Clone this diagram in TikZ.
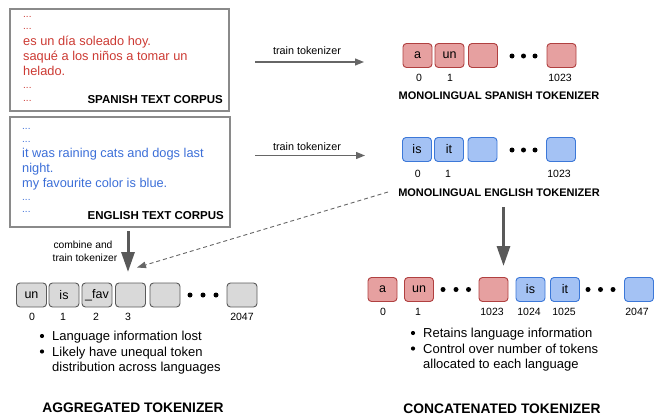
\documentclass[tikz,border=0pt]{standalone}
\usepackage{fontspec}
\setmainfont{Liberation Sans}
\usetikzlibrary{arrows.meta}
\definecolor{sptxt}{HTML}{CC3A33}
\definecolor{entxt}{HTML}{3C6FD8}
\definecolor{redfill}{HTML}{E6A0A0}
\definecolor{redline}{HTML}{B04040}
\definecolor{bluefill}{HTML}{A4C2F4}
\definecolor{blueline}{HTML}{3C78D8}
\definecolor{grayfill}{HTML}{D9D9D9}
\definecolor{grayline}{HTML}{5A5A5A}
\definecolor{boxline}{HTML}{8A8A8A}
\definecolor{arrowgray}{HTML}{666666}
\definecolor{thickgray}{HTML}{595959}
\tikzset{
  corpus/.style={draw=boxline, line width=1.2pt, inner sep=0pt},
  sptext/.style={text=sptxt, font=\fontsize{12.8}{15}\selectfont, anchor=base west, inner sep=0pt},
  entext/.style={text=entxt, font=\fontsize{12.8}{15}\selectfont, anchor=base west, inner sep=0pt},
  spdots/.style={text=sptxt, font=\fontsize{10}{12}\selectfont, anchor=base west, inner sep=0pt},
  endots/.style={text=entxt, font=\fontsize{10}{12}\selectfont, anchor=base west, inner sep=0pt},
  corpuslabel/.style={font=\bfseries\fontsize{11.5}{13}\selectfont, anchor=base east, inner sep=0pt},
  toklabel/.style={font=\bfseries\fontsize{11}{13}\selectfont, anchor=base, inner sep=0pt},
  title/.style={font=\bfseries\fontsize{13.8}{16}\selectfont, anchor=base, inner sep=0pt},
  small/.style={font=\fontsize{10.8}{12}\selectfont, anchor=base, inner sep=0pt},
  tiny/.style={font=\fontsize{10.3}{12}\selectfont, anchor=base, inner sep=0pt},
  idx/.style={font=\fontsize{10.5}{12}\selectfont, anchor=base, inner sep=0pt},
  bultext/.style={font=\fontsize{13}{15}\selectfont, anchor=base west, inner sep=0pt},
  bul/.style={circle, fill=black, inner sep=0pt, minimum size=4.2pt},
  tdot/.style={circle, fill=black, inner sep=0pt, minimum size=5pt},
  tok/.style={draw, rounded corners=3.5pt, minimum width=29pt, minimum height=24pt, inner sep=0pt, line width=0.9pt, font=\fontsize{12.5}{14}\selectfont},
  redtok/.style={tok, fill=redfill, draw=redline},
  bluetok/.style={tok, fill=bluefill, draw=blueline},
  graytok/.style={tok, fill=grayfill, draw=grayline, minimum width=30pt},
  thinarrow/.style={draw=arrowgray, line width=1.2pt, -{Triangle[length=9pt,width=7pt]}},
  thickarrow/.style={draw=thickgray, line width=3pt, -{Triangle[length=20pt,width=13pt]}},
  dasharrow/.style={draw=arrowgray, line width=0.9pt, dash pattern=on 4pt off 3pt, -{Triangle[length=9pt,width=6.5pt]}}
}
\begin{document}
\begin{tikzpicture}[x=1pt,y=-1pt]
\useasboundingbox (0,0) rectangle (654,415);
% Spanish corpus
\node[corpus, minimum width=219pt, minimum height=102pt] (spbox) at (119.5,60) {};
\node[spdots] (sp1) at (23,17) {...};
\node[spdots] (sp2) at (23,30) {...};
\node[sptext] (sp3) at (23,45.5) {es un día soleado hoy.};
\node[sptext] (sp4) at (23,60.5) {saqué a los niños a tomar un};
\node[sptext] (sp5) at (23,75.5) {helado.};
\node[spdots] (sp6) at (23,88.5) {...};
\node[spdots] (sp7) at (23,101) {...};
\node[corpuslabel] (splab) at (223,103) {SPANISH TEXT CORPUS};
% English corpus
\node[corpus, minimum width=220pt, minimum height=110pt] (enbox) at (120,172) {};
\node[endots] (en1) at (22,129) {...};
\node[endots] (en2) at (22,142) {...};
\node[entext] (en3) at (22,157.5) {it was raining cats and dogs last};
\node[entext] (en4) at (22,172.5) {night.};
\node[entext] (en5) at (22,187.5) {my favourite color is blue.};
\node[endots] (en6) at (22,200) {...};
\node[endots] (en7) at (22,212.5) {...};
\node[corpuslabel] (enlab) at (224,219.3) {ENGLISH TEXT CORPUS};
% train arrows
\node[small] (tr1) at (307,54.5) {train tokenizer};
\coordinate (tr1s) at (255,62);
\coordinate (tr1e) at (364,62);
\draw[thinarrow] (tr1s) -- (tr1e);
\node[small] (tr2) at (307,150.5) {train tokenizer};
\coordinate (tr2s) at (255,155.5);
\coordinate (tr2e) at (365,155.5);
\draw[thinarrow] (tr2s) -- (tr2e);
% Spanish tokenizer
\node[redtok] (s0) at (417.5,55.5) {a};
\node[redtok] (s1) at (449.5,55.5) {un};
\node[redtok] (s2) at (483,55.5) {};
\node[tdot] (sd1) at (512,56) {};
\node[tdot] (sd2) at (523.5,56) {};
\node[tdot] (sd3) at (535,56) {};
\node[redtok] (s3) at (561.5,55.5) {};
\node[idx] (si0) at (419,81.8) {0};
\node[idx] (si1) at (450,81.8) {1};
\node[idx] (si3) at (560,81.8) {1023};
\node[toklabel] (slab) at (499,99) {MONOLINGUAL SPANISH TOKENIZER};
% English tokenizer
\node[bluetok] (e0) at (417,149.5) {is};
\node[bluetok] (e1) at (449,149.5) {it};
\node[bluetok] (e2) at (482.5,149.5) {};
\node[tdot] (ed1) at (512,150) {};
\node[tdot] (ed2) at (523.5,150) {};
\node[tdot] (ed3) at (535,150) {};
\node[bluetok] (e3) at (561,149.5) {};
\node[idx] (ei0) at (417.7,177.8) {0};
\node[idx] (ei1) at (448,177.8) {1};
\node[idx] (ei3) at (559,177.8) {1023};
\node[toklabel] (elab) at (499,196) {MONOLINGUAL ENGLISH TOKENIZER};
% Aggregated tokenizer
\node[graytok] (g0) at (31.5,295) {un};
\node[graytok] (g1) at (64,295) {is};
\node[graytok] (g2) at (97,295) {\_fav};
\node[graytok] (g3) at (130.5,295) {};
\node[graytok] (g4) at (165,295) {};
\node[tdot] (gd1) at (190,295) {};
\node[tdot] (gd2) at (203,295) {};
\node[tdot] (gd3) at (216,295) {};
\node[graytok] (g5) at (242,295) {};
\node[idx] (gi0) at (32,320.8) {0};
\node[idx] (gi1) at (63,320.8) {1};
\node[idx] (gi2) at (96,320.8) {2};
\node[idx] (gi3) at (128,320.8) {3};
\node[idx] (gi5) at (242,320.8) {2047};
\node[bul] (gb1) at (42,336) {};
\node[bultext] (gt1) at (52,340.5) {Language information lost};
\node[bul] (gb2) at (42,351.5) {};
\node[bultext] (gt2) at (52,356) {Likely have unequal token};
\node[bultext] (gt3) at (52,371.5) {distribution across languages};
\node[title] (gtitle) at (133,412) {AGGREGATED TOKENIZER};
% combine arrow
\node[tiny] (cb1) at (83,248.5) {combine and};
\node[tiny] (cb2) at (85,261.5) {train tokenizer};
\coordinate (aggs) at (128,231);
\coordinate (agge) at (128,272);
\draw[thickarrow] (aggs) -- (agge);
\coordinate (dashs) at (388,192);
\coordinate (dashe) at (137,267.5);
\draw[dasharrow] (dashs) -- (dashe);
% Concatenated tokenizer
\node[redtok] (c0) at (382.5,289.5) {a};
\node[redtok] (c1) at (419,289.5) {un};
\node[tdot] (cd1) at (443,289.5) {};
\node[tdot] (cd2) at (456,289.5) {};
\node[tdot] (cd3) at (468.5,289.5) {};
\node[redtok] (c2) at (493.5,289.5) {};
\node[bluetok] (c3) at (530.5,289.5) {is};
\node[bluetok] (c4) at (565,289.5) {it};
\node[tdot] (cd4) at (588,289.5) {};
\node[tdot] (cd5) at (600.5,289.5) {};
\node[tdot] (cd6) at (613,289.5) {};
\node[bluetok] (c5) at (639,289.5) {};
\node[idx] (ci0) at (383,315.8) {0};
\node[idx] (ci1) at (418,315.8) {1};
\node[idx] (ci2) at (492,315.8) {1023};
\node[idx] (ci3) at (529,315.8) {1024};
\node[idx] (ci4) at (564,315.8) {1025};
\node[idx] (ci5) at (637,315.8) {2047};
\node[bul] (cb1b) at (413,333) {};
\node[bultext] (ct1) at (423,337.5) {Retains language information};
\node[bul] (cb2b) at (413,348.5) {};
\node[bultext] (ct2) at (423,353) {Control over number of tokens};
\node[bultext] (ct3) at (423,368.5) {allocated to each language};
\node[title] (ctitle) at (502,413) {CONCATENATED TOKENIZER};
\coordinate (cons) at (503.5,207);
\coordinate (cone) at (503.5,266);
\draw[thickarrow] (cons) -- (cone);
\end{tikzpicture}
\end{document}
